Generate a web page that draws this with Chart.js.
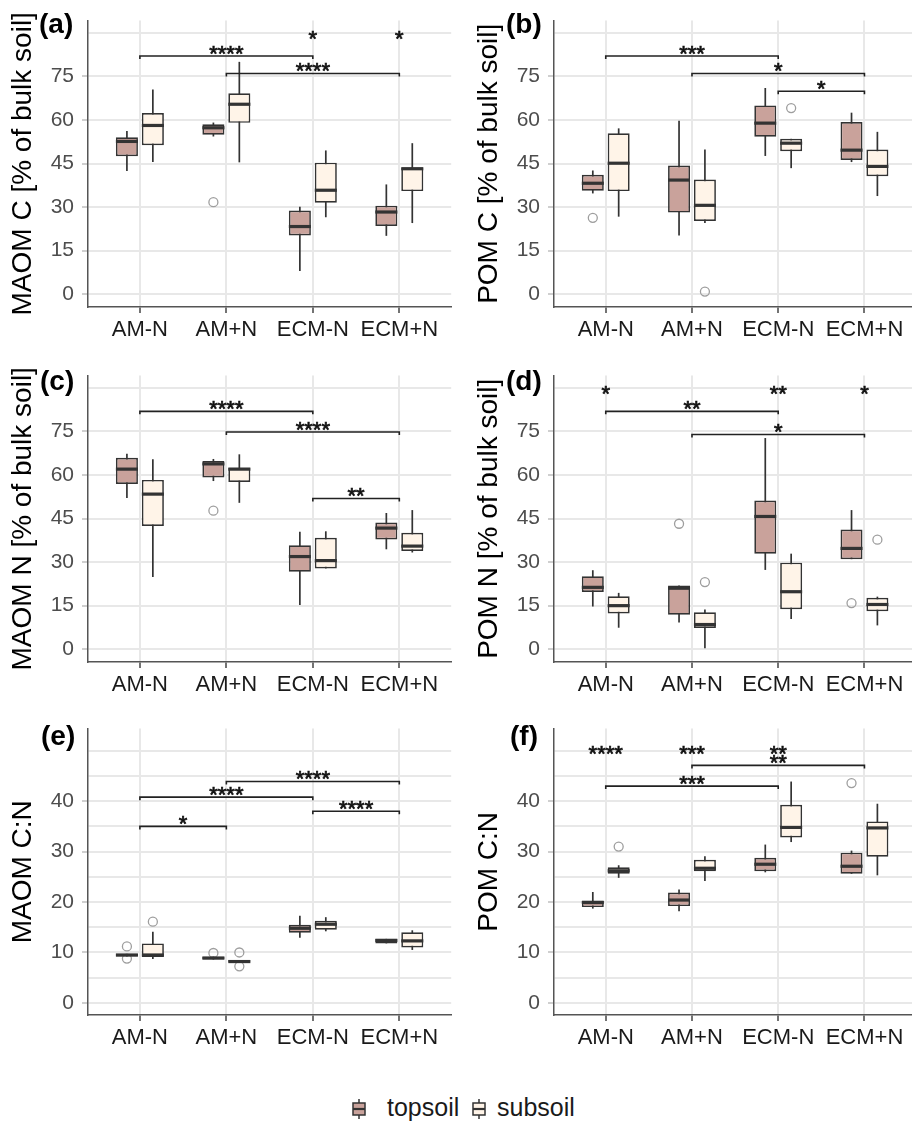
<!DOCTYPE html>
<html>
<head>
<meta charset="utf-8">
<script src="https://cdn.jsdelivr.net/npm/chart.js@4.4.1/dist/chart.umd.min.js"></script>
<style>
  html, body { margin: 0; padding: 0; background: #fff; overflow: hidden; width: 912px; height: 1123px; }
  canvas.panel { position: absolute; }
  .tag { position: absolute; font: bold 28px "Liberation Sans", Arial, sans-serif; color: #000; line-height: 1; }
  .leg { position: absolute; font: 25px "Liberation Sans", Arial, sans-serif; color: #1a1a1a; line-height: 1; }
  canvas.key { position: absolute; }
</style>
</head>
<body>
<canvas id="pa" class="panel" width="457" height="345" style="left:0px;top:0px"></canvas>
<canvas id="pb" class="panel" width="456" height="345" style="left:466px;top:0px"></canvas>
<canvas id="pc" class="panel" width="457" height="345" style="left:0px;top:355px"></canvas>
<canvas id="pd" class="panel" width="456" height="345" style="left:466px;top:355px"></canvas>
<canvas id="pe" class="panel" width="457" height="345" style="left:0px;top:708px"></canvas>
<canvas id="pf" class="panel" width="456" height="345" style="left:466px;top:708px"></canvas>

<div class="tag" style="left:39px;top:10px">(a)</div>
<div class="tag" style="left:506px;top:10px">(b)</div>
<div class="tag" style="left:40px;top:367px">(c)</div>
<div class="tag" style="left:506px;top:367px">(d)</div>
<div class="tag" style="left:41px;top:722px">(e)</div>
<div class="tag" style="left:510px;top:722px">(f)</div>

<canvas id="keyTop" class="key" width="14" height="20" style="left:352px;top:1099px"></canvas>
<div class="leg" style="left:387px;top:1095px">topsoil</div>
<canvas id="keySub" class="key" width="14" height="20" style="left:472px;top:1099px"></canvas>
<div class="leg" style="left:497px;top:1095px">subsoil</div>

<script>
const groups = ["AM-N", "AM+N", "ECM-N", "ECM+N"];

// each box: [lower whisker, q1, median, q3, upper whisker]
const maomCTop = [[42.4, 47.5, 52.6, 54.0, 56.2], [54.3, 54.9, 57.3, 58.5, 59.1], [8.0, 20.2, 23.3, 28.8, 30.1], [20.1, 23.5, 28.3, 30.5, 37.8]];
const maomCSub = [[45.5, 51.3, 58.1, 62.4, 70.5], [45.4, 59.0, 65.4, 69.2, 80.0], [26.5, 31.5, 35.8, 45.3, 49.5], [24.5, 35.5, 43.2, 43.6, 52.0]];
const maomCTopOut = [[2, 31.7]];
const maomCSubOut = [];
const maomCBrackets = [[1, 3, 82.0, "****"], [2, 4, 76.0, "****"]];
const maomCStars = [[3, 89.2, "*"], [4, 89.2, "*"]];

const pomCTop = [[34.7, 35.6, 38.2, 41.1, 42.6], [20.2, 28.1, 39.3, 44.3, 59.7], [47.6, 54.2, 58.9, 65.0, 71.0], [45.5, 46.2, 49.6, 59.3, 62.5]];
const pomCSub = [[26.7, 35.5, 45.1, 55.4, 57.1], [24.5, 25.2, 30.6, 39.5, 49.8], [43.4, 49.2, 52.0, 53.5, 53.5], [33.8, 40.6, 44.0, 49.8, 55.9]];
const pomCTopOut = [[1, 26.3]];
const pomCSubOut = [[2, 0.9], [3, 64.1]];
const pomCBrackets = [[1, 3, 82.0, "***"], [2, 4, 76.0, "*"], [3, 4, 69.9, "*"]];
const pomCStars = [];

const maomNTop = [[52.1, 56.9, 62.0, 65.9, 67.3], [57.9, 59.1, 63.8, 64.8, 65.5], [15.2, 26.7, 31.9, 35.8, 40.4], [34.4, 37.8, 41.7, 43.6, 46.9]];
const maomNSub = [[24.9, 42.4, 53.4, 58.3, 65.4], [50.4, 57.6, 62.0, 62.5, 67.1], [27.8, 27.8, 30.5, 38.4, 40.6], [33.3, 33.8, 35.5, 40.1, 47.9]];
const maomNTopOut = [[2, 47.7]];
const maomNSubOut = [];
const maomNBrackets = [[1, 3, 81.9, "****"], [2, 4, 74.8, "****"], [3, 4, 51.9, "**"]];
const maomNStars = [];

const pomNTop = [[14.7, 19.7, 21.3, 25.1, 27.2], [9.2, 11.9, 21.0, 21.9, 21.9], [27.3, 32.9, 45.7, 51.2, 72.7], [31.0, 31.0, 34.7, 41.2, 47.9]];
const pomNSub = [[7.4, 12.3, 15.0, 18.2, 19.4], [0.3, 7.3, 8.5, 12.7, 13.7], [10.4, 13.8, 19.8, 29.8, 32.9], [8.2, 13.1, 15.4, 17.7, 18.1]];
const pomNTopOut = [[2, 43.2], [4, 15.9]];
const pomNSubOut = [[2, 23.1], [4, 37.7]];
const pomNBrackets = [[1, 3, 81.9, "**"], [2, 4, 73.9, "*"]];
const pomNStars = [[1, 89.2, "*"], [3, 89.2, "**"], [4, 89.2, "*"]];

const maomCNTop = [[9.2, 9.2, 9.5, 9.7, 9.7], [8.6, 8.6, 8.9, 9.15, 9.2], [12.9, 13.9, 14.8, 15.5, 17.3], [11.8, 11.8, 12.4, 12.7, 12.7]];
const maomCNSub = [[8.7, 9.1, 9.5, 11.8, 14.1], [8.0, 8.0, 8.2, 8.5, 8.5], [14.2, 14.5, 15.6, 16.3, 17.0], [10.5, 11.0, 12.3, 14.0, 14.4]];
const maomCNTopOut = [[1, 11.2], [1, 8.8], [2, 9.9]];
const maomCNSubOut = [[1, 16.1], [2, 10.0], [2, 7.25]];
const maomCNBrackets = [[1, 2, 35.0, "*"], [1, 3, 40.8, "****"], [2, 4, 43.9, "****"], [3, 4, 38.0, "****"]];
const maomCNStars = [];

const pomCNTop = [[18.7, 19.0, 19.9, 20.3, 22.0], [18.2, 19.2, 20.4, 21.9, 22.5], [25.9, 26.1, 27.5, 28.8, 31.4], [25.6, 25.6, 27.1, 29.8, 30.2]];
const pomCNSub = [[24.8, 25.6, 26.2, 26.9, 27.3], [24.2, 26.1, 26.7, 28.4, 29.1], [31.9, 32.8, 34.8, 39.3, 43.9], [25.3, 29.0, 34.7, 36.0, 39.5]];
const pomCNTopOut = [[4, 43.6]];
const pomCNSubOut = [[1, 31.0]];
const pomCNBrackets = [[1, 3, 43.0, "***"], [2, 4, 47.1, "**"]];
const pomCNStars = [[1, 50.2, "****"], [2, 50.2, "***"], [3, 50.2, "**"]];

// y axis ticks
const pctLabels = [0, 15, 30, 45, 60, 75];
const pctGrid = [0, 7.5, 15, 22.5, 30, 37.5, 45, 52.5, 60, 67.5, 75, 82.5, 90];
const pctRange = [-4.4, 94.2];
const cnLabels = [0, 10, 20, 30, 40];
const cnGrid = [0, 5, 10, 15, 20, 25, 30, 35, 40, 45, 50];
const cnRange = [-2.4, 54.4];

const TOP_FILL = "#c9a29b";
const SUB_FILL = "#fff4e8";
const EDGE = "#333333";
const OUTLIER = "#9e9e9e";
const GRID = "#e8e8e8";
const AXIS = "#555555";
const CAT_PCT = 0.6;
const DODGE = CAT_PCT / 4;

Chart.defaults.font.family = '"Liberation Sans", Arial, sans-serif';

function centeredText(ctx, text, x, cy) {
  const m = ctx.measureText(text);
  const by = cy + (m.actualBoundingBoxAscent - m.actualBoundingBoxDescent) / 2;
  ctx.strokeText(text, x, by);
  ctx.fillText(text, x, by);
}

const boxParts = {
  id: "boxParts",
  beforeDatasetsDraw(chart) {
    const ctx = chart.ctx;
    const y = chart.scales.y;
    ctx.save();
    ctx.strokeStyle = EDGE;
    ctx.lineWidth = 1.7;
    [0, 1].forEach(d => {
      const stats = chart.data.datasets[d].stats;
      chart.getDatasetMeta(d).data.forEach((bar, i) => {
        ctx.beginPath();
        ctx.moveTo(bar.x, y.getPixelForValue(stats[i][0]));
        ctx.lineTo(bar.x, y.getPixelForValue(stats[i][4]));
        ctx.stroke();
      });
    });
    ctx.restore();
  },
  afterDatasetsDraw(chart, args, opts) {
    const ctx = chart.ctx;
    const x = chart.scales.x;
    const y = chart.scales.y;
    ctx.save();
    // medians
    ctx.strokeStyle = EDGE;
    ctx.lineWidth = 3.2;
    [0, 1].forEach(d => {
      const stats = chart.data.datasets[d].stats;
      chart.getDatasetMeta(d).data.forEach((bar, i) => {
        const yy = y.getPixelForValue(stats[i][2]);
        ctx.beginPath();
        ctx.moveTo(bar.x - bar.width / 2, yy);
        ctx.lineTo(bar.x + bar.width / 2, yy);
        ctx.stroke();
      });
    });
    // significance brackets
    ctx.strokeStyle = "#222";
    ctx.lineWidth = 1.6;
    opts.brackets.forEach(b => {
      const x1 = x.getPixelForValue(b[0]);
      const x2 = x.getPixelForValue(b[1]);
      const yy = y.getPixelForValue(b[2]);
      ctx.beginPath();
      ctx.moveTo(x1, yy + 3);
      ctx.lineTo(x1, yy);
      ctx.lineTo(x2, yy);
      ctx.lineTo(x2, yy + 3);
      ctx.stroke();
    });
    ctx.fillStyle = "#111";
    ctx.strokeStyle = "#111";
    ctx.lineWidth = 0.7;
    ctx.font = '22px "Liberation Sans", Arial, sans-serif';
    ctx.textAlign = "center";
    ctx.textBaseline = "alphabetic";
    opts.brackets.forEach(b => {
      const xm = (x.getPixelForValue(b[0]) + x.getPixelForValue(b[1])) / 2;
      centeredText(ctx, b[3], xm, y.getPixelForValue(b[2]) - 6.3);
    });
    opts.stars.forEach(s => {
      centeredText(ctx, s[2], x.getPixelForValue(s[0]), y.getPixelForValue(s[1]));
    });
    ctx.restore();
  }
};

function panel(id, o) {
  const outlier = {
    type: "scatter",
    pointRadius: 4.5,
    pointBackgroundColor: "rgba(0,0,0,0)",
    pointBorderColor: OUTLIER,
    pointBorderWidth: 1.3
  };
  return new Chart(document.getElementById(id), {
    type: "bar",
    data: {
      datasets: [
        {
          label: "topsoil",
          data: o.top.map((s, i) => ({ x: i + 1, y: [s[1], s[3]] })),
          stats: o.top,
          backgroundColor: TOP_FILL
        },
        {
          label: "subsoil",
          data: o.sub.map((s, i) => ({ x: i + 1, y: [s[1], s[3]] })),
          stats: o.sub,
          backgroundColor: SUB_FILL
        },
        Object.assign({ data: o.topOut.map(p => ({ x: p[0] - DODGE, y: p[1] })) }, outlier),
        Object.assign({ data: o.subOut.map(p => ({ x: p[0] + DODGE, y: p[1] })) }, outlier)
      ]
    },
    options: {
      responsive: false,
      animation: false,
      events: [],
      datasets: {
        bar: {
          categoryPercentage: CAT_PCT,
          barPercentage: 0.85,
          borderColor: EDGE,
          borderWidth: 1.7,
          borderSkipped: false
        }
      },
      layout: { padding: { top: 17, left: 0, right: 0, bottom: 0 } },
      plugins: {
        legend: { display: false },
        tooltip: { enabled: false },
        boxParts: { brackets: o.brackets, stars: o.stars }
      },
      scales: {
        x: {
          type: "linear",
          min: 0.4,
          max: 4.6,
          offset: false,
          afterBuildTicks: s => { s.ticks = groups.map((g, i) => ({ value: i + 1 })); },
          afterFit: s => { s.height = 38; },
          ticks: {
            callback: v => groups[v - 1],
            font: { size: 22 },
            color: "#1a1a1a",
            padding: 4,
            maxRotation: 0,
            autoSkip: false
          },
          grid: { offset: false, color: GRID, lineWidth: 2, tickColor: "#444", tickLength: 6, tickWidth: 1.5 },
          border: { color: AXIS, width: 1.5 }
        },
        y: {
          min: o.range[0],
          max: o.range[1],
          afterBuildTicks: s => { s.ticks = o.grid.map(v => ({ value: v })); },
          afterFit: s => { s.width = 88; },
          ticks: {
            callback: v => (o.labels.includes(v) ? String(v) : ""),
            font: { size: 21 },
            color: "#4d4d4d",
            padding: 8
          },
          grid: {
            color: GRID,
            lineWidth: 2,
            tickLength: 6,
            tickColor: c => (c.tick && o.labels.includes(c.tick.value) ? "#cfcfcf" : "rgba(0,0,0,0)")
          },
          border: { color: AXIS, width: 1.5 },
          title: {
            display: true,
            text: o.title,
            font: { size: 28 },
            color: "#000",
            padding: { top: 6, bottom: 0 }
          }
        }
      }
    },
    plugins: [boxParts]
  });
}

const pct = { labels: pctLabels, grid: pctGrid, range: pctRange };
const cn = { labels: cnLabels, grid: cnGrid, range: cnRange };

panel("pa", Object.assign({ title: "MAOM C [% of bulk soil]", top: maomCTop, sub: maomCSub, topOut: maomCTopOut, subOut: maomCSubOut, brackets: maomCBrackets, stars: maomCStars }, pct));
panel("pb", Object.assign({ title: "POM C [% of bulk soil]", top: pomCTop, sub: pomCSub, topOut: pomCTopOut, subOut: pomCSubOut, brackets: pomCBrackets, stars: pomCStars }, pct));
panel("pc", Object.assign({ title: "MAOM N [% of bulk soil]", top: maomNTop, sub: maomNSub, topOut: maomNTopOut, subOut: maomNSubOut, brackets: maomNBrackets, stars: maomNStars }, pct));
panel("pd", Object.assign({ title: "POM N [% of bulk soil]", top: pomNTop, sub: pomNSub, topOut: pomNTopOut, subOut: pomNSubOut, brackets: pomNBrackets, stars: pomNStars }, pct));
panel("pe", Object.assign({ title: "MAOM C:N", top: maomCNTop, sub: maomCNSub, topOut: maomCNTopOut, subOut: maomCNSubOut, brackets: maomCNBrackets, stars: maomCNStars }, cn));
panel("pf", Object.assign({ title: "POM C:N", top: pomCNTop, sub: pomCNSub, topOut: pomCNTopOut, subOut: pomCNSubOut, brackets: pomCNBrackets, stars: pomCNStars }, cn));

// legend keys: small box-and-whisker glyphs
function drawKey(id, fill) {
  const ctx = document.getElementById(id).getContext("2d");
  ctx.strokeStyle = EDGE;
  ctx.lineWidth = 1.5;
  ctx.beginPath();
  ctx.moveTo(7, 0);
  ctx.lineTo(7, 20);
  ctx.stroke();
  ctx.fillStyle = fill;
  ctx.fillRect(1, 4, 12, 12);
  ctx.strokeRect(1, 4, 12, 12);
  ctx.lineWidth = 2.2;
  ctx.beginPath();
  ctx.moveTo(1, 10);
  ctx.lineTo(13, 10);
  ctx.stroke();
}
drawKey("keyTop", TOP_FILL);
drawKey("keySub", SUB_FILL);
</script>
</body>
</html>
